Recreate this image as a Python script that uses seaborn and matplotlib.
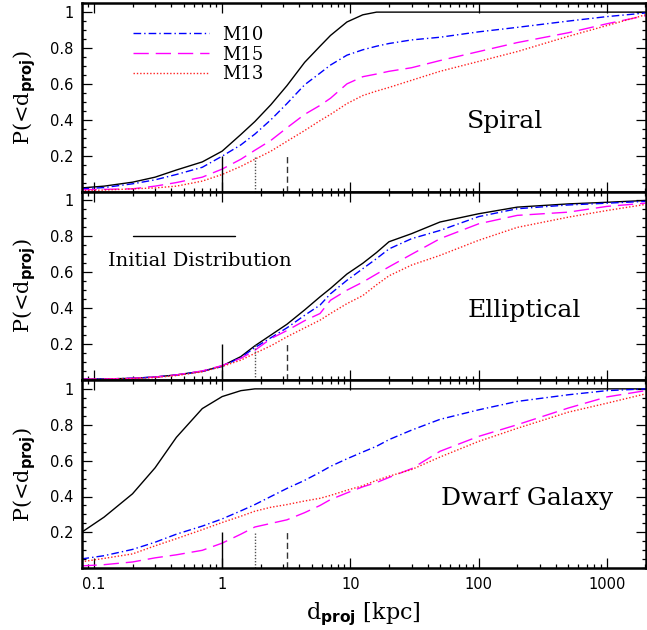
import numpy as np
import pandas as pd
import matplotlib
matplotlib.use("Agg")
import matplotlib.pyplot as plt
import seaborn as sns
from matplotlib.lines import Line2D
from matplotlib.ticker import FixedLocator, MultipleLocator, LogLocator, NullFormatter, FixedFormatter

# Projected distance grid [kpc]
d_proj = [0.08, 0.12, 0.2, 0.3, 0.44, 0.7, 1.0, 1.4, 1.8, 2.4, 3.2, 4.4, 5.8, 7.0,
          9.4, 12.5, 16, 20, 30, 50, 100, 200, 500, 1000, 2000]

# Cumulative fractions, spiral host
spiral_initial = [0.02, 0.03, 0.052, 0.08, 0.12, 0.165, 0.225, 0.318, 0.39, 0.484, 0.59, 0.72, 0.81,
                  0.87, 0.945, 0.985, 1.0, 1.0, 1.0, 1.0, 1.0, 1.0, 1.0, 1.0, 1.0]
spiral_m10 = [0.015, 0.022, 0.043, 0.065, 0.095, 0.135, 0.197, 0.26, 0.32, 0.40, 0.49, 0.595, 0.66,
              0.705, 0.76, 0.79, 0.81, 0.825, 0.845, 0.86, 0.89, 0.915, 0.95, 0.975, 0.995]
spiral_m15 = [0.01, 0.012, 0.015, 0.03, 0.05, 0.08, 0.125, 0.18, 0.23, 0.285, 0.355, 0.43, 0.48,
              0.52, 0.60, 0.64, 0.655, 0.67, 0.69, 0.73, 0.78, 0.83, 0.885, 0.935, 0.98]
spiral_m13 = [0.005, 0.008, 0.015, 0.02, 0.03, 0.058, 0.095, 0.14, 0.18, 0.225, 0.28, 0.34, 0.395,
              0.43, 0.49, 0.535, 0.56, 0.58, 0.62, 0.67, 0.725, 0.78, 0.865, 0.925, 0.985]

# Cumulative fractions, elliptical host
ellip_initial = [0.004, 0.005, 0.009, 0.016, 0.028, 0.048, 0.078, 0.13, 0.19, 0.25, 0.31, 0.39, 0.463,
                 0.51, 0.59, 0.65, 0.71, 0.77, 0.815, 0.88, 0.926, 0.963, 0.981, 0.99, 1.0]
ellip_m10 = [0.004, 0.005, 0.009, 0.016, 0.027, 0.047, 0.075, 0.125, 0.18, 0.235, 0.29, 0.36, 0.417,
             0.48, 0.555, 0.62, 0.676, 0.73, 0.787, 0.833, 0.91, 0.954, 0.975, 0.985, 0.995]
ellip_m15 = [0.004, 0.005, 0.009, 0.016, 0.028, 0.05, 0.08, 0.12, 0.165, 0.23, 0.275, 0.33, 0.37,
             0.444, 0.50, 0.545, 0.59, 0.63, 0.70, 0.787, 0.87, 0.917, 0.935, 0.967, 0.985]
ellip_m13 = [0.003, 0.004, 0.007, 0.013, 0.024, 0.045, 0.075, 0.11, 0.148, 0.19, 0.24, 0.29, 0.333,
             0.37, 0.425, 0.47, 0.53, 0.58, 0.64, 0.694, 0.778, 0.85, 0.907, 0.944, 0.978]

# Cumulative fractions, dwarf galaxy host
dwarf_initial = [0.2, 0.285, 0.415, 0.56, 0.73, 0.89, 0.957, 0.99, 1.0, 1.0, 1.0, 1.0, 1.0,
                 1.0, 1.0, 1.0, 1.0, 1.0, 1.0, 1.0, 1.0, 1.0, 1.0, 1.0, 1.0]
dwarf_m10 = [0.052, 0.07, 0.105, 0.145, 0.19, 0.235, 0.275, 0.32, 0.355, 0.40, 0.445, 0.49, 0.535,
             0.568, 0.61, 0.648, 0.68, 0.717, 0.77, 0.83, 0.883, 0.93, 0.967, 0.99, 1.0]
dwarf_m15 = [0.013, 0.02, 0.035, 0.058, 0.075, 0.1, 0.14, 0.19, 0.23, 0.25, 0.27, 0.31, 0.35,
             0.383, 0.42, 0.454, 0.478, 0.506, 0.555, 0.652, 0.735, 0.80, 0.893, 0.955, 0.99]
dwarf_m13 = [0.036, 0.055, 0.08, 0.125, 0.165, 0.215, 0.255, 0.29, 0.318, 0.34, 0.355, 0.375, 0.39,
             0.406, 0.435, 0.46, 0.49, 0.513, 0.55, 0.62, 0.707, 0.78, 0.87, 0.92, 0.972]

panel_names = ["Spiral", "Elliptical", "Dwarf Galaxy"]
series_names = ["Initial", "M10", "M15", "M13"]
panel_values = {
    "Spiral": [spiral_initial, spiral_m10, spiral_m15, spiral_m13],
    "Elliptical": [ellip_initial, ellip_m10, ellip_m15, ellip_m13],
    "Dwarf Galaxy": [dwarf_initial, dwarf_m10, dwarf_m15, dwarf_m13],
}

# Reference radii marked at the bottom of each panel
marker_x = [1.0, 1.8, 3.2]
marker_top = 0.2

x_ticks = [0.1, 1, 10, 100, 1000]
x_tick_labels = ["0.1", "1", "10", "100", "1000"]
y_ticks = [0.2, 0.4, 0.6, 0.8, 1.0]
y_tick_labels = ["0.2", "0.4", "0.6", "0.8", "1"]

rows = []
for p in panel_names:
    for s, vals in zip(series_names, panel_values[p]):
        for d, v in zip(d_proj, vals):
            rows.append((p, s, d, v))
df = pd.DataFrame(rows, columns=["panel", "series", "d", "P"])

palette = {"Initial": "black", "M10": "#0000ff", "M15": "#ff00ff", "M13": "#ff2020"}
dashes = {"Initial": "", "M10": (5.5, 2.2, 1.0, 2.2), "M15": (11, 5), "M13": (1.0, 1.4)}

sns.set_theme(style="ticks")
plt.rcParams.update({
    "font.family": ["DejaVu Serif"],
    "mathtext.fontset": "custom",
    "mathtext.rm": "DejaVu Serif",
    "mathtext.it": "DejaVu Serif:italic",
    "mathtext.bf": "DejaVu Sans:bold",
    "axes.linewidth": 1.8,
    "axes.edgecolor": "black",
    "text.color": "black",
    "axes.labelcolor": "black",
    "xtick.color": "black",
    "ytick.color": "black",
})

fig, axes = plt.subplots(3, 1, figsize=(6.47, 6.30), dpi=100, sharex=True)
fig.subplots_adjust(left=0.127, right=0.998, top=0.995, bottom=0.098, hspace=0)

panel_label_pos = {"Spiral": (0.75, 0.37), "Elliptical": (0.784, 0.37), "Dwarf Galaxy": (0.789, 0.37)}

for ax, p in zip(axes, panel_names):
    sub = df[df["panel"] == p]
    sns.lineplot(data=sub, x="d", y="P", hue="series", style="series",
                 palette=palette, dashes=dashes, hue_order=series_names,
                 style_order=series_names, estimator=None, sort=False,
                 linewidth=1.0, legend=False, ax=ax)
    ax.set_xscale("log")
    ax.set_xlim(0.081, 2010)
    ax.set_ylim(0, 1.05)
    ax.vlines(marker_x[0], 0, marker_top, colors="black", linewidth=1.0, linestyles="solid")
    ax.vlines(marker_x[1], 0, marker_top, colors="#555555", linewidth=1.0, linestyles=(0, (1.0, 1.2)))
    ax.vlines(marker_x[2], 0, marker_top, colors="#333333", linewidth=1.0, linestyles=(0, (4.5, 2.5)))

    ax.xaxis.set_major_locator(FixedLocator(x_ticks))
    ax.xaxis.set_major_formatter(FixedFormatter(x_tick_labels))
    ax.xaxis.set_minor_locator(LogLocator(base=10, subs=np.arange(2, 10)))
    ax.xaxis.set_minor_formatter(NullFormatter())
    ax.yaxis.set_major_locator(FixedLocator(y_ticks))
    ax.yaxis.set_major_formatter(FixedFormatter(y_tick_labels))
    ax.yaxis.set_minor_locator(MultipleLocator(0.05))
    ax.tick_params(which="both", direction="in", top=True, right=True, width=0.9,
                   colors="black", labelsize=10.5, labelfontfamily="DejaVu Sans", pad=6)
    ax.tick_params(which="major", length=7)
    ax.tick_params(which="minor", length=3.2)
    ax.set_xlabel("")
    ax.set_ylabel("")
    for sp in ax.spines.values():
        sp.set_linewidth(1.8)
    lx, ly = panel_label_pos[p]
    ax.text(lx, ly, p, transform=ax.transAxes, ha="center", va="center", fontsize=18)

# Panel-wise y labels
for ax in axes:
    pos = ax.get_position()
    fig.text(0.039, (pos.y0 + pos.y1) / 2, r"P(<d$_{\mathbf{proj}}$)", rotation=90,
             ha="center", va="center", fontsize=15)

fig.text(0.562, 0.025, r"d$_{\mathbf{proj}}$ [kpc]", ha="center", va="center", fontsize=16)

# Legend for the merged runs
handles = [Line2D([], [], color=palette[s], linewidth=1.0, dashes=dashes[s]) for s in ["M10", "M15", "M13"]]
axes[0].legend(handles, ["M10", "M15", "M13"], loc="upper left", bbox_to_anchor=(0.091, 0.88),
               frameon=False, fontsize=13, handlelength=4.2, handletextpad=0.7,
               labelspacing=0.1, borderpad=0.0, borderaxespad=0.0)

# Key for the initial distribution
axes[1].add_line(Line2D([0.0904, 0.271], [0.762, 0.762], transform=axes[1].transAxes,
                        color="black", linewidth=1.0))
axes[1].text(0.046, 0.629, "Initial Distribution", transform=axes[1].transAxes,
             ha="left", va="center", fontsize=14)

fig.savefig("out.png", dpi=100)
